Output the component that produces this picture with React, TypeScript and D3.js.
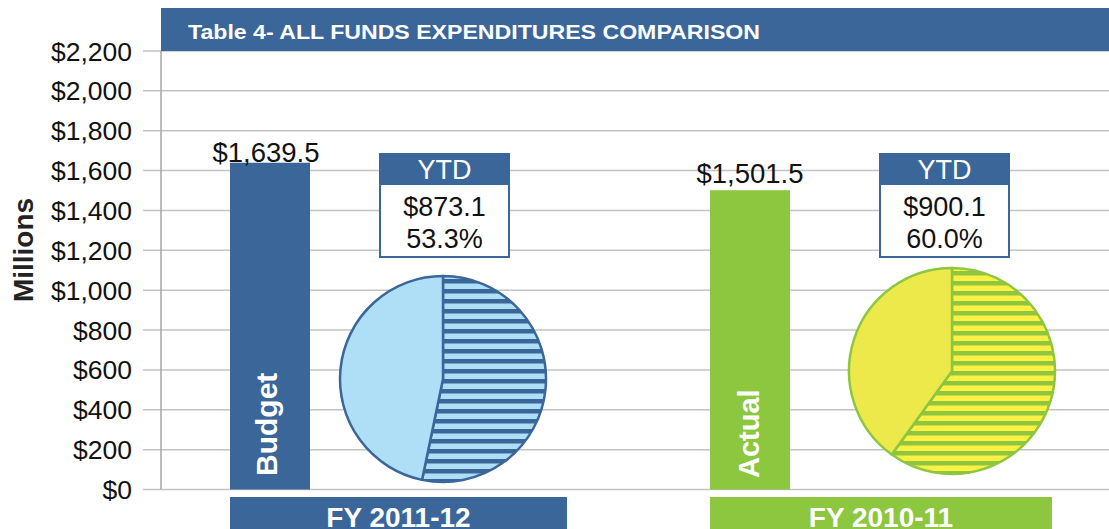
import React from "react";
import * as d3 from "d3";

// chart data
const categories = ["FY 2011-12", "FY 2010-11"];
const barLabels = ["Budget", "Actual"];
const totals = [1639.5, 1501.5];
const ytdValues = [873.1, 900.1];
const ytdPercents = ["53.3%", "60.0%"];
const yTicks = [0, 200, 400, 600, 800, 1000, 1200, 1400, 1600, 1800, 2000, 2200];
const title = "Table 4- ALL FUNDS EXPENDITURES COMPARISON";

const width = 1109;
const height = 529;
const margin = { top: 51, left: 161, bottom: 39.5 };
const font = "'Liberation Sans', Arial, sans-serif";

const BLUE = "#3a6699";
const GREEN = "#8dc63f";

// per-group look (colours + where the YTD box and pie sit relative to the bar)
const groupStyle = [
  { bar: BLUE, light: "#aedff7", stripeBg: "#aedff7", stroke: BLUE, boxDx: 150, pieDx: 213, pieY: 379, bannerW: 337 },
  { bar: GREEN, light: "#eee94b", stripeBg: "#fff143", stroke: GREEN, boxDx: 170, pieDx: 242, pieY: 371, bannerW: 342 },
];

export default function App() {
  const y = d3
    .scaleLinear()
    .domain([0, 2200])
    .range([height - margin.bottom, margin.top]);

  const x = d3
    .scaleBand()
    .domain(categories)
    .range([230, 1190])
    .padding(0);

  const barW = 80;
  const radius = 103;
  const pie = d3.pie<number>().sort(null);
  const arc = d3.arc<d3.PieArcDatum<number>>().innerRadius(0).outerRadius(radius);

  const fmt = (v: number) => "$" + d3.format(",.1f")(v);

  return (
    <svg
      width={width}
      height={height}
      style={{ position: "absolute", left: 0, top: 0, fontFamily: font }}
    >
      <defs>
        {groupStyle.map((g, i) => (
          <pattern
            key={i}
            id={`stripes-${i}`}
            patternUnits="userSpaceOnUse"
            width={10}
            height={10}
          >
            <rect width={10} height={10} fill={g.stripeBg} />
            <rect y={0} width={10} height={4.5} fill={g.bar} />
          </pattern>
        ))}
      </defs>

      {/* gridlines */}
      {yTicks.map((t) => (
        <line
          key={t}
          x1={143}
          x2={width}
          y1={y(t)}
          y2={y(t)}
          stroke="#c3c3c3"
          strokeWidth={1.5}
        />
      ))}
      <line x1={margin.left} x2={margin.left} y1={y(2200)} y2={y(0)} stroke="#a6a6a6" strokeWidth={1.5} />

      {/* tick labels */}
      {yTicks.map((t) => (
        <text
          key={t}
          x={132}
          y={y(t)}
          dy="0.36em"
          textAnchor="end"
          fontSize={26.5}
          fill="#111"
        >
          {"$" + d3.format(",")(t)}
        </text>
      ))}

      <text
        transform={`translate(33,250) rotate(-90)`}
        textAnchor="middle"
        fontSize={28}
        fontWeight="bold"
        fill="#222"
      >
        Millions
      </text>

      {/* title banner */}
      <rect x={margin.left} y={8} width={width - margin.left} height={43} fill={BLUE} />
      <text
        x={188}
        y={39}
        fontSize={20}
        fontWeight="bold"
        fill="#fff"
        textLength={572}
        lengthAdjust="spacingAndGlyphs"
      >
        {title}
      </text>

      {categories.map((c, i) => {
        const g = groupStyle[i];
        const x0 = x(c) as number;
        const arcs = pie([ytdValues[i], totals[i] - ytdValues[i]]);
        const bx = x0 + g.boxDx;
        return (
          <g key={c}>
            {/* pie */}
            <g transform={`translate(${x0 + g.pieDx},${g.pieY})`}>
              {arcs.map((a, k) => (
                <path
                  key={k}
                  d={arc(a) || ""}
                  fill={k === 0 ? `url(#stripes-${i})` : g.light}
                  stroke={g.stroke}
                  strokeWidth={2.5}
                  strokeLinejoin="round"
                />
              ))}
            </g>

            {/* bar */}
            <rect
              x={x0}
              y={y(totals[i])}
              width={barW}
              height={y(0) - y(totals[i])}
              fill={g.bar}
            />
            <text
              x={x0 + barW / 2 - (i === 0 ? 4 : 0)}
              y={y(totals[i]) - (i === 0 ? 1 : 7)}
              textAnchor="middle"
              fontSize={27.5}
              fill="#111"
            >
              {fmt(totals[i])}
            </text>
            <text
              transform={`translate(${x0 + (i === 0 ? 47 : 49)},${i === 0 ? 476 : 478}) rotate(-90)`}
              fontSize={i === 0 ? 30 : 29}
              fontWeight="bold"
              fill="#fff"
            >
              {barLabels[i]}
            </text>

            {/* YTD box */}
            <rect x={bx} y={154} width={129} height={103} fill="#fff" stroke={BLUE} strokeWidth={2} />
            <rect x={bx} y={154} width={129} height={31} fill={BLUE} />
            <text x={bx + 64.5} y={179} textAnchor="middle" fontSize={27} fill="#fff">
              YTD
            </text>
            <text x={bx + 64.5} y={216} textAnchor="middle" fontSize={27} fill="#111">
              {fmt(ytdValues[i])}
            </text>
            <text x={bx + 64.5} y={248} textAnchor="middle" fontSize={27} fill="#111">
              {ytdPercents[i]}
            </text>

            {/* category banner */}
            <rect x={x0} y={497} width={g.bannerW} height={32} fill={g.bar} />
            <text
              x={x0 + g.bannerW / 2}
              y={527}
              textAnchor="middle"
              fontSize={28}
              fontWeight="bold"
              fill="#fff"
            >
              {c}
            </text>
          </g>
        );
      })}
    </svg>
  );
}
